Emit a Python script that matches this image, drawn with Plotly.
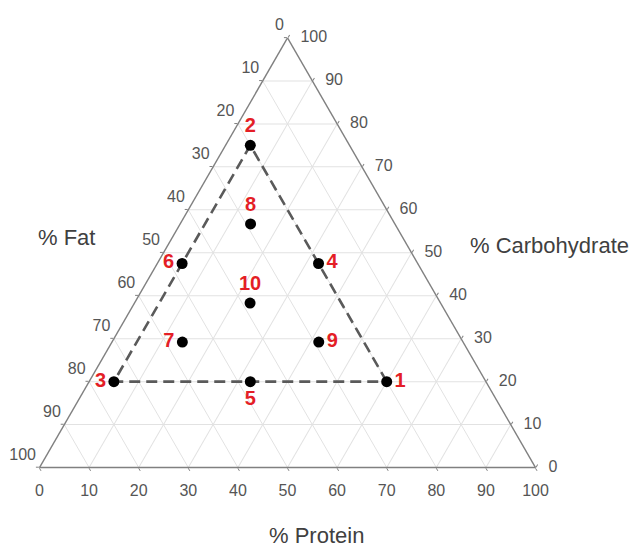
import plotly.graph_objects as go

# ---- data ----
point_labels = ["1", "2", "3", "4", "5", "6", "7", "8", "9", "10"]
carbohydrate = [20, 75, 20, 47.5, 20, 47.5, 29.2, 56.7, 29.2, 38.3]
protein = [60, 5, 5, 32.5, 32.5, 5, 14.2, 14.2, 41.7, 23.3]
fat = [20, 20, 75, 20, 47.5, 47.5, 56.6, 29.1, 29.1, 38.4]
boundary_order = [0, 1, 2, 0]  # design-region vertices 1 -> 2 -> 3 -> 1

tick_values = [0, 10, 20, 30, 40, 50, 60, 70, 80, 90, 100]
tick_labels = ["0", "10", "20", "30", "40", "50", "60", "70", "80", "90", "100"]

# ---- styles ----
TICK_FONT = dict(family="Liberation Sans, Arial, sans-serif", size=16, color="#555555")
TITLE_FONT = dict(family="Liberation Sans, Arial, sans-serif", size=22, color="#404040")
RED = "#e41e26"
label_positions = ["middle right", "top center", "middle left", "middle right",
                   "bottom center", "middle left", "middle left", "top center",
                   "middle right", "top center"]

fig = go.Figure()

# dashed boundary of the design region
fig.add_trace(go.Scatterternary(
    a=[carbohydrate[i] for i in boundary_order],
    b=[fat[i] for i in boundary_order],
    c=[protein[i] for i in boundary_order],
    mode="lines",
    line=dict(color="#5a5a5a", width=2.6, dash="11px,6px"),
    hoverinfo="skip", cliponaxis=False, showlegend=False,
))

# design points with red labels
fig.add_trace(go.Scatterternary(
    a=carbohydrate, b=fat, c=protein,
    mode="markers+text",
    text=point_labels,
    textposition=label_positions,
    textfont=dict(family="Liberation Sans, Arial, sans-serif", size=20, color=RED, weight="bold"),
    marker=dict(color="black", size=11),
    cliponaxis=False, showlegend=False,
))

# tick labels: Fat on the left edge
fig.add_trace(go.Scatterternary(
    a=[100 - t for t in tick_values], b=tick_values, c=[0] * len(tick_values),
    mode="markers+text", text=tick_labels, textposition="top left",
    textfont=TICK_FONT, marker=dict(size=4, opacity=0),
    hoverinfo="skip", cliponaxis=False, showlegend=False,
))
# tick labels: Carbohydrate on the right edge
fig.add_trace(go.Scatterternary(
    a=tick_values, b=[0] * len(tick_values), c=[100 - t for t in tick_values],
    mode="markers+text", text=tick_labels, textposition="middle right",
    textfont=TICK_FONT, marker=dict(size=19, opacity=0),
    hoverinfo="skip", cliponaxis=False, showlegend=False,
))
# tick labels: Protein on the bottom edge
fig.add_trace(go.Scatterternary(
    a=[0] * len(tick_values), b=[100 - t for t in tick_values], c=tick_values,
    mode="markers+text", text=tick_labels, textposition="bottom center",
    textfont=TICK_FONT, marker=dict(size=24, opacity=0),
    hoverinfo="skip", cliponaxis=False, showlegend=False,
))

axis_style = dict(
    title=dict(text=""), showticklabels=False,
    tick0=0, dtick=10, min=0,
    ticks="outside", ticklen=3, tickcolor="#808080", tickwidth=1,
    showline=True, linecolor="#808080", linewidth=1.4,
    showgrid=True, gridcolor="#e2e2e2", gridwidth=1,
)

fig.update_layout(
    width=637, height=549,
    margin=dict(l=0, r=0, t=0, b=0),
    paper_bgcolor="white",
    showlegend=False,
    ternary=dict(
        sum=100,
        bgcolor="white",
        domain=dict(x=[0.062, 0.8407], y=[0.145, 0.9342]),
        aaxis=axis_style, baxis=axis_style, caxis=axis_style,
    ),
    annotations=[
        dict(text="% Fat", x=0.105, y=0.5665, xref="paper", yref="paper",
             showarrow=False, font=TITLE_FONT, xanchor="center", yanchor="middle"),
        dict(text="% Carbohydrate", x=0.863, y=0.5537, xref="paper", yref="paper",
             showarrow=False, font=TITLE_FONT, xanchor="center", yanchor="middle"),
        dict(text="% Protein", x=0.4976, y=0.0255, xref="paper", yref="paper",
             showarrow=False, font=TITLE_FONT, xanchor="center", yanchor="middle"),
    ],
)

fig.write_html(
    "out.html",
    config={"displayModeBar": False},
    post_script="document.body.style.margin='0';document.body.style.overflow='hidden';",
)
